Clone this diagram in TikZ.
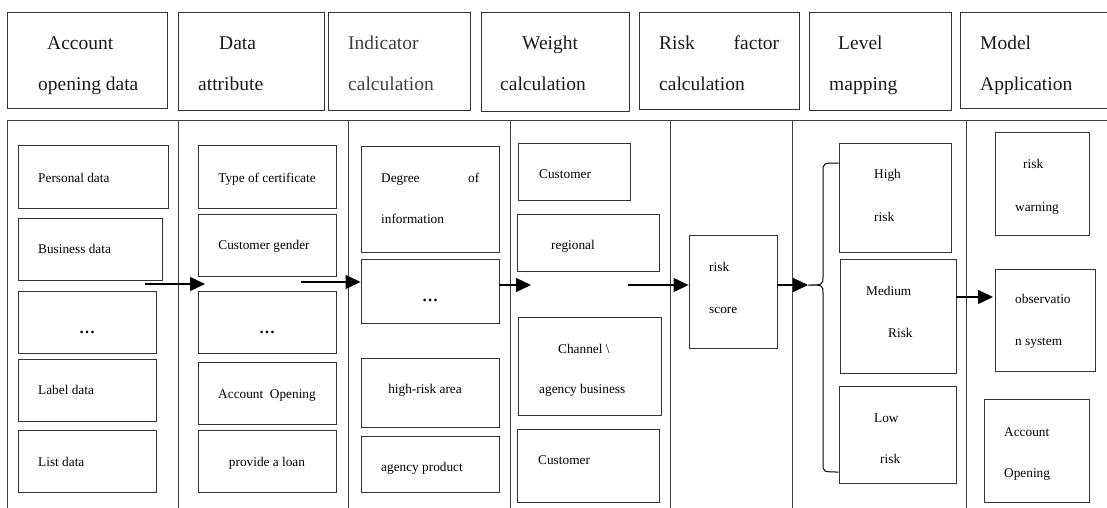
\documentclass[tikz,border=0pt]{standalone}
\usepackage{fontspec}
\setmainfont{Liberation Serif}
\usetikzlibrary{arrows.meta,fit}
\begin{document}
\begin{tikzpicture}[x=1pt,y=-1pt,
  box/.style={draw=black!80, line width=0.9pt, rectangle, inner sep=0pt},
  hd/.style={font=\fontsize{19.5}{20}\selectfont, inner sep=0pt, anchor=base west, text=black!90},
  tx/.style={font=\fontsize{13.3}{14}\selectfont, inner sep=0pt, anchor=base west},
  ell/.style={font=\fontsize{16}{16}\selectfont\bfseries, inner sep=0pt, anchor=base},
  rule/.style={draw=black!75, line width=0.9pt},
  flow/.style={-{Triangle[length=15pt,width=14pt]}, line width=1.2pt},
]
\useasboundingbox (0,0) rectangle (1107,508);

% ---------- header row ----------
\node[box, fit={(7,12)(167,108)}]   (h1) {};
\node[box, fit={(178,12)(324,110)}] (h2) {};
\node[box, fit={(328,12)(470,110)}] (h3) {};
\node[box, fit={(481,12)(629,111)}] (h4) {};
\node[box, fit={(639,12)(799,109)}] (h5) {};
\node[box, fit={(809,12)(951,110)}] (h6) {};
\node[box, fit={(960,12)(1120,108)}] (h7) {};

\node[hd] (h1a) at (47,50) {Account};
\node[hd] (h1b) at (38,91) {opening data};
\node[hd] (h2a) at (219,50) {Data};
\node[hd] (h2b) at (198,91) {attribute};
\node[hd, text=black!75] (h3a) at (348,50) {Indicator};
\node[hd, text=black!75] (h3b) at (348,91) {calculation};
\node[hd] (h4a) at (522,50) {Weight};
\node[hd] (h4b) at (500,91) {calculation};
\node[hd] (h5a) at (659,50) {\makebox[120pt][s]{Risk factor}};
\node[hd] (h5b) at (659,91) {calculation};
\node[hd] (h6a) at (838,50) {Level};
\node[hd] (h6b) at (829,91) {mapping};
\node[hd] (h7a) at (980,50) {Model};
\node[hd] (h7b) at (980,91) {Application};

% ---------- body frame ----------
\draw[rule] (7,120) -- (1120,120);
\foreach \cx in {7,178,348,510,670,792,966}
  \draw[rule] (\cx,120) -- (\cx,520);

% ---------- column 1: account opening data ----------
\node[box, fit={(18,145)(168,208)}] (c1a) {};
\node[box, fit={(18,218)(162,280)}] (c1b) {};
\node[box, fit={(18,291)(156,353)}] (c1c) {};
\node[box, fit={(18,359)(156,421)}] (c1d) {};
\node[box, fit={(18,430)(156,492)}] (c1e) {};
\node[tx] (t1a) at (38,182) {Personal data};
\node[tx] (t1b) at (38,253) {Business data};
\node[ell] (t1c) at (87,333) {…};
\node[tx] (t1d) at (38,394) {Label data};
\node[tx] (t1e) at (38,466) {List data};

% ---------- column 2: data attribute ----------
\node[box, fit={(198,145)(336,208)}] (c2a) {};
\node[box, fit={(198,214)(336,276)}] (c2b) {};
\node[box, fit={(198,291)(336,353)}] (c2c) {};
\node[box, fit={(198,362)(336,424)}] (c2d) {};
\node[box, fit={(198,430)(336,492)}] (c2e) {};
\node[tx, anchor=base] (t2a) at (267,182) {Type of certificate};
\node[tx, anchor=base] (t2b) at (264,249) {Customer gender};
\node[ell] (t2c) at (267,333) {…};
\node[tx, anchor=base] (t2d) at (267,398) {Account\ \ Opening};
\node[tx, anchor=base] (t2e) at (267,466) {provide a loan};

% ---------- column 3: indicator calculation ----------
\node[box, fit={(361,146)(499,252)}] (c3a) {};
\node[box, fit={(361,259)(499,323)}] (c3b) {};
\node[box, fit={(361,358)(499,427)}] (c3c) {};
\node[box, fit={(361,436)(499,492)}] (c3d) {};
\node[tx] (t3a) at (381,182) {\makebox[98pt][s]{Degree of}};
\node[tx] (t3a2) at (381,223) {information};
\node[ell] (t3b) at (430,301) {…};
\node[tx, anchor=base] (t3c) at (425,393) {high-risk area};
\node[tx, anchor=base] (t3d) at (422,471) {agency product};

% ---------- column 4: weight calculation ----------
\node[box, fit={(518,143)(630,200)}] (c4a) {};
\node[box, fit={(517,214)(659,271)}] (c4b) {};
\node[box, fit={(518,317)(661,415)}] (c4c) {};
\node[box, fit={(517,429)(659,502)}] (c4d) {};
\node[tx] (t4a) at (539,178) {Customer};
\node[tx] (t4b) at (551,249) {regional};
\node[tx] (t4c) at (558,353) {Channel \textbackslash};
\node[tx] (t4c2) at (539,393) {agency business};
\node[tx] (t4d) at (538,464) {Customer};

% ---------- column 5: risk factor calculation ----------
\node[box, fit={(689,235)(777,348)}] (c5) {};
\node[tx] (t5a) at (709,271) {risk};
\node[tx] (t5b) at (709,313) {score};

% ---------- column 6: level mapping ----------
\node[box, fit={(839,143)(951,252)}] (c6a) {};
\node[box, fit={(840,259)(956,373)}] (c6b) {};
\node[box, fit={(839,386)(956,483)}] (c6c) {};
\node[tx] (t6a) at (874,178) {High};
\node[tx] (t6a2) at (874,221) {risk};
\node[tx] (t6b) at (866,295) {Medium};
\node[tx] (t6b2) at (888,337) {Risk};
\node[tx] (t6c) at (874,422) {Low};
\node[tx] (t6c2) at (880,463) {risk};

% ---------- column 7: model application ----------
\node[box, fit={(995,132)(1089,235)}] (c7a) {};
\node[box, fit={(995,269)(1095,371)}] (c7b) {};
\node[box, fit={(984,399)(1089,502)}] (c7c) {};
\node[tx] (t7a) at (1023,168) {risk};
\node[tx] (t7a2) at (1015,211) {warning};
\node[tx] (t7b) at (1015,303) {observatio};
\node[tx] (t7b2) at (1015,345) {n system};
\node[tx] (t7c) at (1004,436) {Account};
\node[tx] (t7c2) at (1004,477) {Opening};

% ---------- brace grouping the risk levels ----------
\coordinate (cusp) at (808,285);
\draw[line width=1pt] (c6a.west |- 0,163) .. controls (823,163) .. (823,172)
  -- (823,276) .. controls (823,285) .. (cusp)
  .. controls (823,285) .. (823,294)
  -- (823,463) .. controls (823,472) .. (c6c.west |- 0,472);

% ---------- flow arrows ----------
\coordinate (a1s) at (145,284);
\coordinate (a1e) at (205,284);
\coordinate (a2s) at (301,282);
\coordinate (a3e) at (531,285);
\coordinate (a4s) at (628,285);
\coordinate (a6e) at (993,297);
\draw[flow] (a1s) -- (a1e);
\draw[flow] (a2s) -- (a2s -| c3b.west);
\draw[flow] (c3b.east |- a3e) -- (a3e);
\draw[flow] (a4s) -- (a4s -| c5.west);
\draw[flow] (c5.east |- cusp) -- (cusp);
\draw[flow] (c6b.east |- a6e) -- (a6e);
\end{tikzpicture}
\end{document}
